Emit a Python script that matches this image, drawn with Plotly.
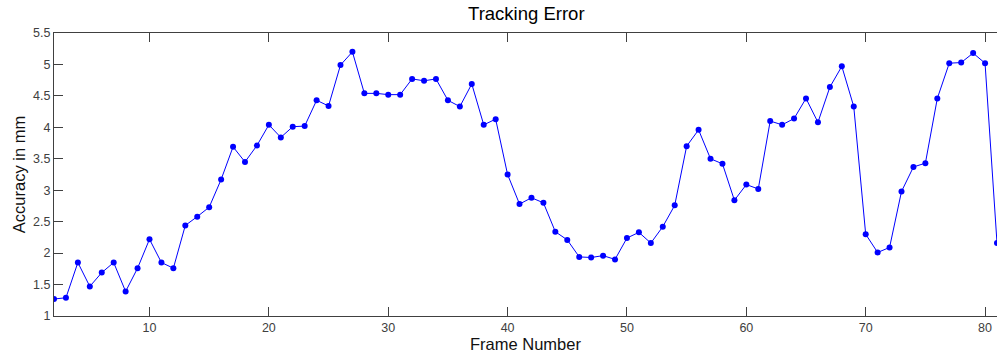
import plotly.graph_objects as go

frames = list(range(2, 82))
accuracy = [
    1.27, 1.29, 1.85, 1.47, 1.69, 1.85, 1.39, 1.76, 2.22, 1.85,
    1.76, 2.44, 2.58, 2.73, 3.17, 3.69, 3.45, 3.71, 4.04, 3.84,
    4.01, 4.02, 4.43, 4.34, 4.99, 5.20, 4.54, 4.54, 4.52, 4.52,
    4.77, 4.74, 4.77, 4.43, 4.33, 4.69, 4.04, 4.13, 3.25, 2.78,
    2.88, 2.80, 2.34, 2.21, 1.94, 1.93, 1.96, 1.90, 2.24, 2.33,
    2.16, 2.42, 2.76, 3.70, 3.96, 3.50, 3.42, 2.84, 3.09, 3.02,
    4.10, 4.04, 4.14, 4.46, 4.08, 4.64, 4.97, 4.33, 2.30, 2.01,
    2.09, 2.98, 3.37, 3.43, 4.46, 5.02, 5.03, 5.18, 5.02, 2.16,
]
x_ticks = [10, 20, 30, 40, 50, 60, 70, 80]
y_ticks = [1, 1.5, 2, 2.5, 3, 3.5, 4, 4.5, 5, 5.5]
y_ticklabels = ["1", "1.5", "2", "2.5", "3", "3.5", "4", "4.5", "5", "5.5"]

font = "Liberation Sans, Arial, sans-serif"
axcol = "#404040"

fig = go.Figure()
fig.add_trace(go.Scatter(
    x=frames, y=accuracy, mode="lines+markers",
    line=dict(color="#0000ff", width=1),
    marker=dict(color="#0000ff", size=6),
    showlegend=False,
))

fig.update_layout(
    width=997, height=356,
    margin=dict(l=54, r=0, t=33, b=40),
    paper_bgcolor="white", plot_bgcolor="white",
    title=dict(text="Tracking Error", x=0.5279, xanchor="center", y=0.962, yanchor="middle",
               font=dict(family=font, size=18.5, color="black")),
    xaxis=dict(
        range=[2, 81], tickvals=x_ticks, ticks="inside", ticklen=9, tickcolor=axcol,
        showline=True, linecolor=axcol, linewidth=1, mirror="ticks",
        showgrid=False, zeroline=False,
        tickfont=dict(family=font, size=12.5, color=axcol),
        title=dict(text="Frame Number", font=dict(family=font, size=16.5, color="#111"), standoff=1),
    ),
    yaxis=dict(
        range=[1, 5.5], tickvals=y_ticks, ticktext=y_ticklabels, ticks="inside", ticklen=9,
        tickcolor=axcol, showline=True, linecolor=axcol, linewidth=1, mirror=False,
        showgrid=False, zeroline=False,
        tickfont=dict(family=font, size=12.5, color=axcol),
        title=dict(text="Accuracy in mm", font=dict(family=font, size=16.5, color="#111"), standoff=3),
    ),
    yaxis2=dict(
        overlaying="y", side="right", range=[1, 5.5], tickvals=y_ticks,
        ticks="inside", ticklen=9, tickcolor=axcol, showticklabels=False,
        showline=False, showgrid=False, zeroline=False,
    ),
)

fig.write_html("out.html")
